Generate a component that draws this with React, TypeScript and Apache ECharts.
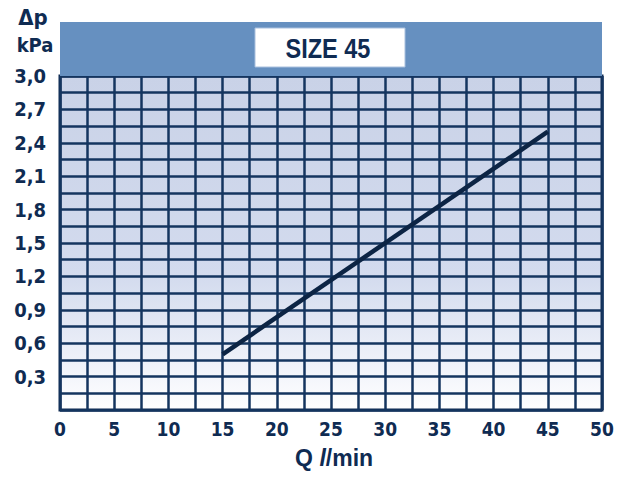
import React, { useEffect, useRef } from "react";
import * as echarts from "echarts";

const flowValues: number[] = [15, 45];
const pressureValues: number[] = [0.5, 2.5];
const xTickLabels: string[] = ["0", "5", "10", "15", "20", "25", "30", "35", "40", "45", "50"];
const yTickLabels: string[] = ["0,3", "0,6", "0,9", "1,2", "1,5", "1,8", "2,1", "2,4", "2,7", "3,0"];
const titleText = "SIZE 45";

const NAVY = "#0f2b52";
const FONT = "'DejaVu Sans Condensed', 'DejaVu Sans', sans-serif";
const FONT2 = "'Liberation Sans', Arial, sans-serif";

export default function App() {
  const ref = useRef<HTMLDivElement>(null);
  useEffect(() => {
    document.body.style.margin = "0";
    if (!ref.current) return;
    const chart = echarts.init(ref.current, null, { renderer: "svg" });
    const seriesData = flowValues.map((q, i) => [q, pressureValues[i]]);
    const left = 60, right = 24, top = 76, bottom = 67;
    const W = 626;
    chart.setOption({
      animation: false,
      backgroundColor: "#ffffff",
      grid: {
        left, right, top, bottom,
        show: true,
        borderColor: NAVY,
        borderWidth: 3,
        backgroundColor: {
          type: "linear", x: 0, y: 0, x2: 0, y2: 1,
          colorStops: [
            { offset: 0, color: "#c9d2e7" },
            { offset: 0.6, color: "#d3dbee" },
            { offset: 0.85, color: "#eef1f9" },
            { offset: 1, color: "#ffffff" },
          ],
        },
      },
      xAxis: {
        type: "value", min: 0, max: 50, interval: 2.5,
        axisLine: { show: false },
        axisTick: { show: false },
        splitLine: { show: true, lineStyle: { color: "#14355f", width: 2.5 } },
        axisLabel: {
          margin: 9,
          color: NAVY, fontFamily: FONT, fontWeight: "bold", fontSize: 19,
          formatter: (v: number) => {
            const k = Math.round(v / 5);
            return Math.abs(v - k * 5) < 1e-6 ? xTickLabels[k] ?? "" : "";
          },
        },
      },
      yAxis: {
        type: "value", min: 0, max: 3.0, interval: 0.15,
        axisLine: { show: false },
        axisTick: { show: false },
        splitLine: { show: true, lineStyle: { color: "#14355f", width: 2.5 } },
        axisLabel: {
          margin: 14,
          color: NAVY, fontFamily: FONT, fontWeight: "bold", fontSize: 20,
          formatter: (v: number) => {
            const k = Math.round(v / 0.3);
            if (k < 1 || Math.abs(v - k * 0.3) > 1e-6) return "";
            return yTickLabels[k - 1] ?? "";
          },
        },
      },
      series: [
        {
          type: "line",
          data: seriesData,
          showSymbol: false,
          symbol: "none",
          lineStyle: { color: "#0c2444", width: 4.5 },
          z: 5,
        },
      ],
      graphic: [
        {
          type: "rect",
          shape: { x: left, y: 22, width: W - left - right, height: top - 22 },
          style: { fill: "#6690c0" },
          z: 1,
        },
        {
          type: "rect",
          shape: { x: 255, y: 28, width: 150, height: 39 },
          style: { fill: "#ffffff", stroke: "#a9c0de", lineWidth: 1 },
          z: 2,
        },
        {
          type: "text",
          x: 328, y: 48,
          scaleX: 0.87,
          style: {
            text: titleText, fill: NAVY, font: `bold 27px ${FONT2}`,
            textAlign: "center", textVerticalAlign: "middle",
          },
          z: 3,
        },
        {
          type: "text",
          x: 33, y: 17,
          style: {
            text: "Δp", fill: NAVY, font: `bold 22px ${FONT}`,
            textAlign: "center", textVerticalAlign: "middle",
          },
          z: 3,
        },
        {
          type: "text",
          x: 35, y: 45,
          style: {
            text: "kPa", fill: NAVY, font: `bold 20px ${FONT}`,
            textAlign: "center", textVerticalAlign: "middle",
          },
          z: 3,
        },
        {
          type: "text",
          x: 334, y: 458,
          style: {
            text: "{q|Q}  {l|l}{m|/min}",
            textAlign: "center", textVerticalAlign: "middle",
            rich: {
              q: { fill: NAVY, font: `bold 23px ${FONT2}` },
              l: { fill: NAVY, font: `italic bold 23px ${FONT2}` },
              m: { fill: NAVY, font: `bold 23px ${FONT2}` },
            },
          },
          z: 3,
        },
      ],
    });
    return () => chart.dispose();
  }, []);
  return <div ref={ref} style={{ width: 626, height: 477 }} />;
}
